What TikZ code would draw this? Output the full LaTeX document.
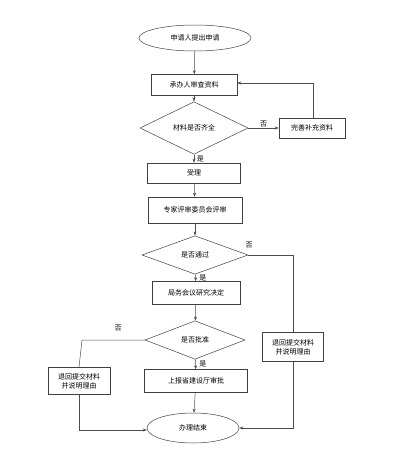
\documentclass[tikz,border=0pt]{standalone}
\usepackage{fontspec}
\setmainfont{Noto Sans CJK SC}
\usetikzlibrary{shapes.geometric,arrows.meta}
\tikzset{
  base/.style={draw=black!75, line width=0.5pt, inner sep=1pt, font=\fontsize{7}{9}\selectfont, align=center},
  proc/.style={base, rectangle},
  term/.style={base, ellipse},
  dec/.style={base, diamond},
  conn/.style={draw=black!70, line width=0.5pt},
  arr/.style={conn, -{Stealth[length=4pt,width=3pt]}},
  lbl/.style={font=\fontsize{7}{8}\selectfont, inner sep=0.5pt}
}
\begin{document}
\begin{tikzpicture}[x=1pt,y=-1pt]
\useasboundingbox (0,0) rectangle (414,449);
\node[term, minimum width=112pt, minimum height=26pt] (start) at (195,38) {申请人提出申请};
\node[proc, minimum width=86pt, minimum height=21pt] (review) at (194,85) {承办人审查资料};
\node[dec, minimum width=108pt, minimum height=25pt] (check) at (194,128) {材料是否齐全};
\node[proc, minimum width=66pt, minimum height=20pt] (supp) at (312,128) {完善补充资料};
\node[proc, minimum width=93pt, minimum height=20pt] (accept) at (194,173) {受理};
\node[proc, minimum width=94pt, minimum height=26pt] (expert) at (195,210) {专家评审委员会评审};
\node[dec, minimum width=106pt, minimum height=30pt] (pass) at (195,255) {是否通过};
\node[proc, minimum width=88pt, minimum height=23pt] (meeting) at (196,293) {局务会议研究决定};
\node[dec, minimum width=100pt, minimum height=36pt] (approve) at (195,340) {是否批准};
\node[proc, minimum width=103pt, minimum height=23pt] (report) at (196,381) {上报省建设厅审批};
\node[term, minimum width=92pt, minimum height=30pt] (end) at (193,428) {办理结束};
\node[proc, minimum width=61pt, minimum height=29pt] (retR) at (293,347) {退回提交材料\\并说明理由};
\node[proc, minimum width=62pt, minimum height=27pt] (retL) at (79,381) {退回提交材料\\并说明理由};

\coordinate (loopTop) at (313,83);
\coordinate (passCorner) at (293,255);
\coordinate (retRBottom) at (293,428);
\coordinate (apprCorner) at (82,337);
\coordinate (retLBottom) at (79,430);

\draw[arr] (start) -- (review);
\draw[arr] (review) -- (check);
\draw[arr] (check.east) -- (supp.west) node[lbl, midway, above] {否};
\draw[arr] (supp.north -| loopTop) -- (loopTop) -- (review.east |- loopTop);
\draw[arr] (check) -- (accept) node[lbl, midway, right, xshift=2pt] {是};
\draw[arr] (accept) -- (expert);
\draw[arr] (expert) -- (pass);
\draw[conn] (pass.east) -- (passCorner) -- (retR.north);
\node[lbl] at (249,245) {否};
\draw[arr] (pass) -- (meeting) node[lbl, midway, right, xshift=3pt] {是};
\draw[arr] (meeting) -- (approve);
\draw[arr] (approve) -- (report) node[lbl, midway, right, xshift=3pt] {是};
\draw[conn] (approve.west) -- (approve.west -| apprCorner) -- (retL.north);
\node[lbl] at (118,328) {否};
\draw[arr] (report) -- (end);
\draw[arr] (retR.south) -- (retRBottom) -- (end.east);
\draw[arr] (retL.south) -- (retLBottom) -- (end.west |- retLBottom);
\end{tikzpicture}
\end{document}
